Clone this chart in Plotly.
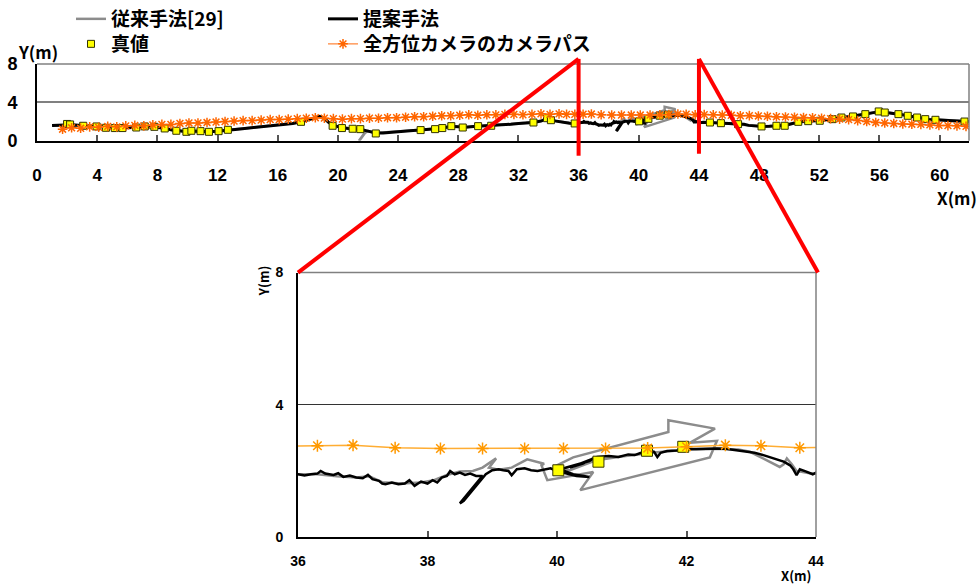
import plotly.graph_objects as go

W, H = 979, 584

# ---------------- data ----------------
camera_path = [
    (1.7, 1.2), (2.3, 1.35), (2.9, 1.3), (3.5, 1.45), (4.1, 1.4), (4.7, 1.5), (5.3, 1.45), (5.9, 1.55), (6.5, 1.6), (7.1, 1.55),
    (7.7, 1.65), (8.3, 1.7), (8.9, 1.7), (9.5, 1.8), (10.1, 1.85), (10.7, 1.85), (11.3, 1.9), (11.9, 1.95), (12.5, 2.0), (13.1, 2.05),
    (13.7, 2.1), (14.3, 2.1), (14.9, 2.15), (15.5, 2.2), (16.1, 2.2), (16.7, 2.25), (17.3, 2.3), (17.9, 2.35), (18.5, 2.4), (19.1, 2.35),
    (19.7, 2.3), (20.3, 2.25), (20.9, 2.3), (21.5, 2.3), (22.1, 2.35), (22.7, 2.35), (23.3, 2.4), (23.9, 2.4), (24.5, 2.45), (25.1, 2.5),
    (25.7, 2.5), (26.3, 2.55), (26.9, 2.6), (27.5, 2.6), (28.1, 2.65), (28.7, 2.7), (29.3, 2.65), (29.9, 2.7), (30.5, 2.7), (31.1, 2.75),
    (31.7, 2.75), (32.3, 2.7), (32.9, 2.75), (33.5, 2.8), (34.1, 2.75), (34.7, 2.8), (35.2, 2.75), (35.75, 2.75), (36.3, 2.76), (36.85, 2.78),
    (37.5, 2.7), (38.2, 2.68), (38.85, 2.68), (39.5, 2.68), (40.1, 2.68), (40.75, 2.68), (41.4, 2.69), (42.0, 2.73), (42.6, 2.78), (43.15, 2.76),
    (43.75, 2.7), (44.35, 2.72), (44.95, 2.7), (45.55, 2.68), (46.15, 2.65), (46.75, 2.6), (47.35, 2.62), (47.95, 2.58), (48.55, 2.55), (49.15, 2.5),
    (49.75, 2.48), (50.35, 2.45), (50.95, 2.42), (51.55, 2.4), (52.15, 2.35), (52.75, 2.3), (53.35, 2.25), (53.95, 2.2), (54.55, 2.1), (55.15, 2.0),
    (55.75, 1.9), (56.35, 1.85), (56.95, 1.8), (57.55, 1.75), (58.15, 1.72), (58.75, 1.7), (59.35, 1.65), (59.95, 1.6), (60.55, 1.58), (61.15, 1.55),
    (61.75, 1.5),
]

true_points = [
    (2.0, 1.75), (2.2, 1.7), (3.07, 1.56), (3.96, 1.49), (4.58, 1.35), (5.17, 1.32), (5.68, 1.32), (6.6, 1.38), (7.16, 1.49), (7.8, 1.45),
    (8.49, 1.28), (9.26, 1.04), (9.93, 0.93), (10.26, 1.04), (10.87, 1.0), (11.43, 0.93), (12.07, 1.0), (12.69, 1.14), (17.55, 1.97),
    (19.65, 1.56), (20.27, 1.32), (20.98, 1.25), (21.49, 1.21), (22.52, 0.76), (25.5, 1.11), (26.46, 1.21), (26.94, 1.32), (27.54, 1.52),
    (28.3, 1.38), (29.32, 1.52), (30.19, 1.56), (33.0, 1.9), (33.9, 2.35), (34.16, 2.14), (35.74, 1.8),
    (40.02, 2.02), (40.64, 2.28), (41.39, 2.61), (41.95, 2.73),
    (44.73, 1.9), (45.46, 1.83), (46.6, 1.73), (48.16, 1.49), (49.15, 1.56), (49.7, 1.56), (50.6, 1.97), (51.26, 2.04), (52.03, 2.08),
    (52.87, 2.25), (53.47, 2.42), (54.24, 2.53), (55.06, 2.77), (55.95, 3.05), (56.35, 2.94), (57.26, 2.77), (57.88, 2.6), (58.5, 2.42),
    (59.04, 2.25), (59.72, 2.18), (61.65, 2.0),
]

proposed_path = [
    (1.0, 1.6), (1.5, 1.62), (2.0, 1.7), (2.5, 1.65), (3.0, 1.58), (3.5, 1.52), (4.0, 1.5), (4.5, 1.4), (5.0, 1.35), (5.5, 1.33),
    (6.0, 1.35), (6.5, 1.4), (7.0, 1.47), (7.5, 1.46), (8.0, 1.4), (8.5, 1.3), (9.0, 1.12), (9.5, 1.0), (10.0, 0.95), (10.5, 1.02),
    (11.0, 0.98), (11.5, 0.95), (12.0, 1.0), (12.5, 1.1), (13.0, 1.15), (13.5, 1.22), (14.0, 1.3), (14.5, 1.35), (15.0, 1.42), (15.5, 1.5),
    (16.0, 1.6), (16.5, 1.7), (17.0, 1.8), (17.5, 1.95), (18.0, 2.15), (18.5, 2.4), (18.8, 2.55), (19.1, 2.35), (19.4, 1.9), (19.7, 1.6),
    (20.0, 1.45), (20.3, 1.35), (20.7, 1.28), (21.0, 1.25), (21.5, 1.2), (22.0, 1.0), (22.5, 0.8), (23.0, 0.82), (23.5, 0.9), (24.0, 0.98),
    (24.5, 1.02), (25.0, 1.08), (25.5, 1.12), (26.0, 1.18), (26.5, 1.22), (27.0, 1.32), (27.5, 1.5), (28.0, 1.45), (28.5, 1.4), (29.0, 1.48),
    (29.5, 1.52), (30.0, 1.55), (30.5, 1.6), (31.0, 1.65), (31.5, 1.72), (32.0, 1.8), (32.5, 1.85), (33.0, 1.9), (33.5, 2.05), (33.9, 2.3),
    (34.2, 2.12), (34.6, 2.0), (35.0, 1.9), (35.4, 1.82), (35.75, 1.8),
    (36.0, 1.9), (36.1, 1.86), (36.2, 1.9), (36.3, 1.92), (36.35, 2.0), (36.42, 1.92), (36.55, 1.88), (36.62, 1.93), (36.7, 1.82), (36.8, 1.86),
    (36.9, 1.8), (37.0, 1.78), (37.08, 1.88), (37.15, 1.75), (37.25, 1.7), (37.3, 1.62), (37.35, 1.6), (37.45, 1.65), (37.55, 1.6), (37.65, 1.62),
    (37.72, 1.72), (37.8, 1.55), (37.9, 1.68), (38.0, 1.62), (38.08, 1.72), (38.15, 1.65), (38.22, 1.8), (38.3, 1.85), (38.35, 2.0), (38.42, 1.9),
    (38.5, 1.95), (38.58, 1.88), (38.66, 1.92), (38.75, 1.85), (38.85, 1.85), (38.5, 1.02), (38.56, 1.1), (38.9, 1.9), (39.0, 2.02), (39.1, 2.05),
    (39.17, 2.02), (39.25, 2.0), (39.3, 1.87), (39.38, 2.05), (39.5, 2.08), (39.6, 2.02), (39.7, 2.0), (39.8, 2.05), (39.9, 2.08), (40.0, 2.0),
    (40.15, 1.92), (40.3, 1.85), (40.5, 1.82), (40.25, 1.9), (40.05, 2.05), (40.3, 2.18), (40.5, 2.3), (40.58, 2.4), (40.4, 2.22), (40.2, 2.1),
    (40.45, 2.28), (40.62, 2.42), (40.8, 2.45), (40.95, 2.42), (41.1, 2.5), (41.2, 2.48), (41.3, 2.55), (41.4, 2.63), (41.5, 2.58), (41.55, 2.42),
    (41.6, 2.55), (41.7, 2.6), (41.85, 2.62), (42.0, 2.66), (42.15, 2.66), (42.3, 2.68), (42.47, 2.68), (42.6, 2.67), (42.75, 2.63), (42.9, 2.6),
    (43.05, 2.55), (43.2, 2.47), (43.35, 2.38), (43.5, 2.28), (43.6, 2.17), (43.65, 2.05), (43.7, 1.87), (43.75, 2.05), (43.85, 1.98), (43.95, 1.9),
    (44.0, 1.95), (44.08, 1.87),
    (44.3, 1.92), (44.7, 1.9), (45.2, 1.88), (45.6, 1.82), (46.0, 1.78), (46.5, 1.74), (47.0, 1.72), (47.3, 1.6), (47.7, 1.52), (48.2, 1.48),
    (48.7, 1.5), (49.2, 1.55), (49.7, 1.58), (50.1, 1.75), (50.6, 1.95), (51.2, 2.03), (51.7, 2.05), (52.1, 2.1), (52.6, 2.2), (53.0, 2.28),
    (53.5, 2.42), (54.0, 2.5), (54.5, 2.6), (55.0, 2.75), (55.5, 2.9), (56.0, 3.02), (56.4, 2.95), (56.8, 2.88), (57.3, 2.77), (57.8, 2.62),
    (58.3, 2.48), (58.8, 2.32), (59.2, 2.22), (59.7, 2.18), (60.2, 2.12), (60.7, 2.08), (61.2, 2.04), (61.7, 2.0), (62.0, 2.0),
]

conventional_path = [
    (1.0, 1.62), (2.0, 1.68), (3.0, 1.6), (4.0, 1.48), (5.0, 1.36), (6.0, 1.36), (7.0, 1.46), (8.0, 1.38), (9.0, 1.1), (10.0, 0.97),
    (11.0, 0.99), (12.0, 1.02), (13.0, 1.16), (14.0, 1.32), (15.0, 1.44), (16.0, 1.62), (17.0, 1.82), (18.0, 2.17), (18.8, 2.5), (19.4, 1.92),
    (20.0, 1.47), (20.7, 1.3), (21.3, 1.22), (21.8, 0.9), (21.75, 0.75), (21.4, 0.0), (21.45, 0.05), (21.8, 0.8), (22.0, 1.02), (22.5, 0.82),
    (23.5, 0.92), (24.5, 1.04), (25.5, 1.14), (26.5, 1.24), (27.5, 1.48), (28.5, 1.42), (29.5, 1.54), (30.5, 1.62), (31.5, 1.74), (32.5, 1.87),
    (33.5, 2.07), (33.9, 2.28), (34.6, 2.02), (35.4, 1.84), (35.75, 1.82),
    (36.0, 1.9), (36.3, 1.9), (36.6, 1.84), (36.9, 1.8), (37.1, 1.84), (37.3, 1.66), (37.6, 1.62), (37.9, 1.65), (38.1, 1.72), (38.3, 1.88),
    (38.5, 1.98), (38.7, 2.0), (38.85, 2.1), (39.06, 2.38), (38.95, 2.1), (39.1, 2.04), (39.3, 2.1), (39.54, 2.35), (39.8, 2.22), (39.76, 2.17),
    (39.85, 1.72), (40.56, 1.97), (40.36, 1.42), (42.36, 2.41), (42.47, 2.91), (42.05, 2.85), (42.44, 3.28), (41.72, 3.53), (41.72, 3.18), (40.25, 2.41),
    (39.95, 2.12), (40.2, 2.02), (40.6, 2.32), (41.0, 2.44), (41.5, 2.56), (42.0, 2.64), (42.5, 2.67), (42.8, 2.65), (42.98, 2.58), (43.44, 2.12),
    (43.5, 2.2), (43.55, 2.38), (43.62, 2.22), (43.7, 2.0), (43.9, 1.93), (44.1, 1.9),
    (44.7, 1.92), (45.6, 1.84), (46.5, 1.76), (47.3, 1.62), (48.2, 1.5), (49.2, 1.57), (50.1, 1.77), (51.2, 2.05), (52.1, 2.12), (53.0, 2.3),
    (54.0, 2.52), (55.0, 2.77), (56.0, 3.04), (56.8, 2.9), (57.8, 2.64), (58.8, 2.34), (59.7, 2.2), (60.7, 2.1), (61.7, 2.02), (62.0, 2.02),
]

series_names = ["従来手法[29]", "提案手法", "真値", "全方位カメラのカメラパス"]
top_x_ticks = [0, 4, 8, 12, 16, 20, 24, 28, 32, 36, 40, 44, 48, 52, 56, 60]
zoom_x_ticks = [36, 38, 40, 42, 44]
y_ticks = [0, 4, 8]
TOP_X_RANGE = [0, 61.95]
ZOOM_X_RANGE = [36, 44]
Y_RANGE = [0, 8]


def split(pairs):
    return [p[0] for p in pairs], [p[1] for p in pairs]


cam_x, cam_y = split(camera_path)
tru_x, tru_y = split(true_points)
pro_x, pro_y = split(proposed_path)
con_x, con_y = split(conventional_path)

# ---------------- layout geometry (pixels -> paper) ----------------
def px(x):
    return x / W


def py(y):
    return 1 - y / H


top_dom_x = [px(37), px(969)]
top_dom_y = [py(140), py(63)]
bot_dom_x = [px(298), px(816)]
bot_dom_y = [py(537), py(272)]

NUM_FONT = "Liberation Sans, Arial, sans-serif"
JP_FONT = "Noto Sans CJK JP, sans-serif"

fig = go.Figure()

# ---- top (overview) ----
fig.add_trace(go.Scatter(x=con_x, y=con_y, mode="lines", name=series_names[0],
                         line=dict(color="#8c8c8c", width=2.5), xaxis="x", yaxis="y", legend="legend"))
fig.add_trace(go.Scatter(x=pro_x, y=pro_y, mode="lines", name=series_names[1],
                         line=dict(color="#000000", width=3), xaxis="x", yaxis="y", legend="legend2"))
fig.add_trace(go.Scatter(x=tru_x, y=tru_y, mode="markers", name=series_names[2],
                         marker=dict(symbol="square", size=7, color="#ffff00", line=dict(color="#333300", width=1)),
                         xaxis="x", yaxis="y", legend="legend3"))
fig.add_trace(go.Scatter(x=cam_x, y=cam_y, mode="lines+markers", name=series_names[3],
                         line=dict(color="#ff9a5c", width=1.5),
                         marker=dict(symbol="asterisk-open", size=8, color="#ff6600", line=dict(color="#ff6600", width=1.5)),
                         xaxis="x", yaxis="y", legend="legend4"))

# ---- bottom (zoomed) ----
fig.add_trace(go.Scatter(x=con_x, y=con_y, mode="lines", showlegend=False,
                         line=dict(color="#8c8c8c", width=2.5), xaxis="x2", yaxis="y2"))
fig.add_trace(go.Scatter(x=pro_x, y=pro_y, mode="lines", showlegend=False,
                         line=dict(color="#000000", width=2.5), xaxis="x2", yaxis="y2"))
fig.add_trace(go.Scatter(x=tru_x, y=tru_y, mode="markers", showlegend=False,
                         marker=dict(symbol="square", size=11, color="#ffff00", line=dict(color="#333300", width=1)),
                         xaxis="x2", yaxis="y2"))
fig.add_trace(go.Scatter(x=cam_x, y=cam_y, mode="lines+markers", showlegend=False,
                         line=dict(color="#ffad33", width=1.5),
                         marker=dict(symbol="asterisk-open", size=10, color="#ff9900", line=dict(color="#ff9900", width=1.5)),
                         xaxis="x2", yaxis="y2"))

axis_common = dict(showgrid=False, zeroline=False, showline=True, linecolor="#000000", linewidth=2, automargin=False)

fig.update_layout(
    width=W, height=H, autosize=False,
    margin=dict(l=0, r=0, t=0, b=0, pad=0),
    paper_bgcolor="#ffffff", plot_bgcolor="#ffffff",
    # top x axis: line + inside ticks, no labels
    xaxis=dict(domain=top_dom_x, range=TOP_X_RANGE, anchor="y", tickvals=top_x_ticks,
               ticks="inside", ticklen=6, tickwidth=1.5, tickcolor="#555555",
               showticklabels=False, **axis_common),
    # overlay axis that carries the top tick labels further below the axis
    xaxis3=dict(overlaying="x", range=TOP_X_RANGE, anchor="y", tickvals=top_x_ticks,
                ticks="outside", ticklen=19, tickcolor="rgba(0,0,0,0)",
                tickfont=dict(family=NUM_FONT, size=17, color="#000000", weight="bold"),
                showline=False, showgrid=False, zeroline=False, automargin=False),
    yaxis=dict(domain=top_dom_y, range=Y_RANGE, anchor="x", tickvals=y_ticks, ticks="",
               tickfont=dict(family=NUM_FONT, size=18, color="#000000", weight="bold"),
               ticklabelstandoff=14, automargin=False,
               showgrid=True, gridcolor="#808080", gridwidth=2, zeroline=False,
               showline=True, linecolor="#000000", linewidth=2),
    xaxis2=dict(domain=bot_dom_x, range=ZOOM_X_RANGE, anchor="y2", tickvals=zoom_x_ticks,
                ticks="inside", ticklen=6, tickwidth=1.5, tickcolor="#555555",
                tickfont=dict(family=NUM_FONT, size=14, color="#000000", weight="bold"),
                ticklabelstandoff=10, **axis_common),
    yaxis2=dict(domain=bot_dom_y, range=Y_RANGE, anchor="x2", tickvals=y_ticks, ticks="",
                tickfont=dict(family=NUM_FONT, size=14, color="#000000", weight="bold"),
                ticklabelstandoff=10, automargin=False,
                showgrid=True, gridcolor="#333333", gridwidth=1, zeroline=False,
                showline=True, linecolor="#000000", linewidth=2),
)

# invisible helper trace so the overlay label axis is rendered
fig.add_trace(go.Scatter(x=[TOP_X_RANGE[0]], y=[Y_RANGE[0]], mode="markers", marker=dict(opacity=0),
                         showlegend=False, hoverinfo="skip", xaxis="x3", yaxis="y"))

legend_style = dict(font=dict(family=JP_FONT, size=19, color="#000000", weight="bold"),
                    bgcolor="rgba(0,0,0,0)", borderwidth=0, xanchor="left", yanchor="top",
                    orientation="v", itemwidth=30)
fig.update_layout(
    legend=dict(x=px(71), y=py(-1), **legend_style),
    legend2=dict(x=px(323), y=py(-1), **legend_style),
    legend3=dict(x=px(71), y=py(25), **legend_style),
    legend4=dict(x=px(323), y=py(25), **legend_style),
)

# ---- axis titles as annotations ----
title_font_big = dict(family=JP_FONT, size=17, color="#000000", weight="bold")
title_font_small = dict(family=JP_FONT, size=13, color="#000000", weight="bold")
ann = dict(xref="paper", yref="paper", showarrow=False, xanchor="center", yanchor="middle")
fig.add_annotation(text="Y(m)", x=px(38), y=py(51), font=title_font_big, **ann)
fig.add_annotation(text="X(m)", x=px(957), y=py(197), font=title_font_big, **ann)
fig.add_annotation(text="Y(m)", x=px(264), y=py(281), textangle=-90, font=title_font_small, **ann)
fig.add_annotation(text="X(m)", x=px(796), y=py(575), font=title_font_small, **ann)

# ---- frame lines (grey top / right borders) ----
for xd, yd in (("x domain", "y domain"), ("x2 domain", "y2 domain")):
    fig.add_shape(type="line", xref=xd, yref=yd, x0=0, x1=1, y0=1, y1=1, line=dict(color="#808080", width=1.5))
    fig.add_shape(type="line", xref=xd, yref=yd, x0=1, x1=1, y0=0, y1=1, line=dict(color="#808080", width=1.5))


# ---- red zoom indicator lines ----
def top_x_to_paper(v):
    return top_dom_x[0] + (v - TOP_X_RANGE[0]) / (TOP_X_RANGE[1] - TOP_X_RANGE[0]) * (top_dom_x[1] - top_dom_x[0])


red = dict(color="#ff0000", width=4)
fig.add_shape(type="line", xref="x", yref="paper", x0=ZOOM_X_RANGE[0], x1=ZOOM_X_RANGE[0],
              y0=py(155), y1=py(58), line=red, layer="above")
fig.add_shape(type="line", xref="x", yref="paper", x0=ZOOM_X_RANGE[1], x1=ZOOM_X_RANGE[1],
              y0=py(153), y1=py(58), line=red, layer="above")
fig.add_shape(type="line", xref="paper", yref="paper", x0=top_x_to_paper(ZOOM_X_RANGE[0]), y0=py(58),
              x1=bot_dom_x[0], y1=bot_dom_y[1], line=red, layer="above")
fig.add_shape(type="line", xref="paper", yref="paper", x0=top_x_to_paper(ZOOM_X_RANGE[1]), y0=py(58),
              x1=bot_dom_x[1] + px(2), y1=bot_dom_y[1], line=red, layer="above")

fig.write_html("out.html", config={"displayModeBar": False},
               post_script="document.body.style.margin='0px';document.body.style.overflow='hidden';")
